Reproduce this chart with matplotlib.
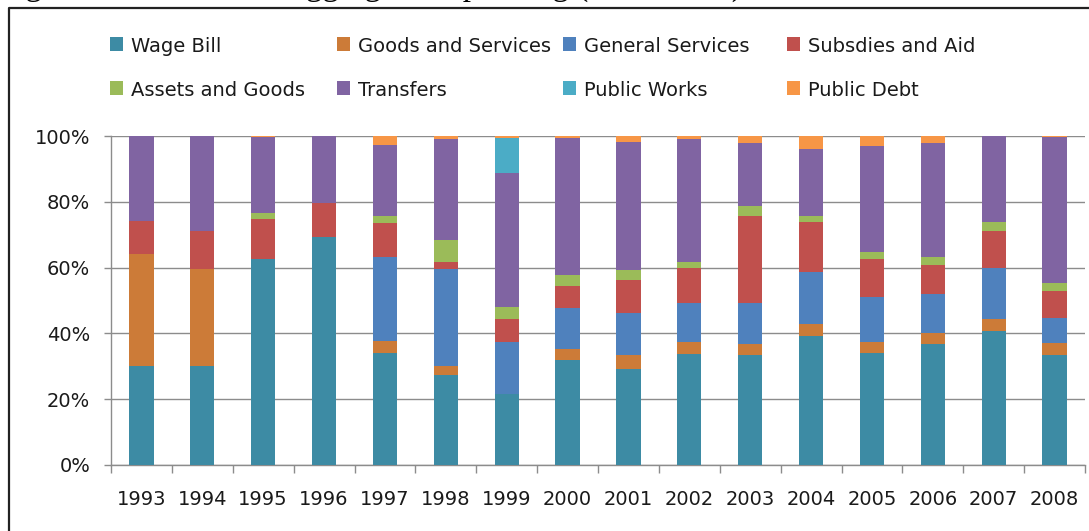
import numpy as np
import matplotlib
matplotlib.use("Agg")
import matplotlib.pyplot as plt
from matplotlib.lines import Line2D
from matplotlib.patches import Rectangle

# share of total spending per year (%), stacked bottom to top
years = ["1993", "1994", "1995", "1996", "1997", "1998", "1999", "2000",
         "2001", "2002", "2003", "2004", "2005", "2006", "2007", "2008"]

wage_bill = [30.1, 30.0, 62.5, 69.2, 34.1, 27.5, 21.6, 31.9, 29.3, 33.7, 33.3, 39.3, 34.1, 36.7, 40.7, 33.3]
goods_services = [33.9, 29.6, 0.0, 0.0, 3.7, 2.6, 0.0, 3.3, 4.0, 3.8, 3.4, 3.7, 3.4, 3.3, 3.7, 3.8]
general_services = [0.0, 0.0, 0.0, 0.0, 25.4, 29.5, 15.9, 12.6, 12.9, 11.6, 12.4, 15.8, 13.6, 11.9, 15.6, 7.7]
subsidies_aid = [10.3, 11.4, 12.2, 10.3, 10.5, 2.2, 6.9, 6.6, 10.0, 10.9, 26.7, 15.2, 11.4, 8.8, 11.0, 8.1]
assets_goods = [0.0, 0.0, 1.8, 0.0, 2.1, 6.7, 3.7, 3.2, 3.0, 1.8, 2.9, 1.8, 2.1, 2.5, 3.0, 2.3]
transfers = [25.7, 29.0, 23.3, 20.5, 21.5, 30.6, 40.7, 41.9, 39.1, 37.2, 19.3, 20.2, 32.3, 34.8, 26.0, 44.6]
public_works = [0.0, 0.0, 0.0, 0.0, 0.0, 0.0, 10.7, 0.0, 0.0, 0.0, 0.0, 0.0, 0.0, 0.0, 0.0, 0.0]
public_debt = [0.0, 0.0, 0.2, 0.0, 2.7, 0.9, 0.5, 0.5, 1.7, 1.0, 2.0, 4.0, 3.1, 2.0, 0.0, 0.2]

series_names = ["Wage Bill", "Goods and Services", "General Services", "Subsdies and Aid",
                "Assets and Goods", "Transfers", "Public Works", "Public Debt"]
series_values = [wage_bill, goods_services, general_services, subsidies_aid,
                 assets_goods, transfers, public_works, public_debt]
colors = ["#3d8ba4", "#cc7b38", "#4f81bd", "#c0504d",
          "#9bbb59", "#8064a2", "#4bacc6", "#f79646"]

W, H = 1089, 531
plt.rcParams["font.family"] = ["DejaVu Sans"]
text_color = "#1a1a1a"
axis_gray = "#8c8c8c"

fig = plt.figure(figsize=(W / 100, H / 100), dpi=100)
ax = fig.add_axes([111 / W, 66 / H, 974 / W, 329 / H])

x = np.arange(len(years))
bottom = np.zeros(len(years))
for name, vals, c in zip(series_names, series_values, colors):
    vals = np.array(vals)
    ax.bar(x, vals, width=0.4, bottom=bottom, color=c, linewidth=0, label=name, zorder=3)
    bottom += vals

ax.set_xlim(-0.5, len(years) - 0.5)
ax.set_ylim(0, 100)
ax.set_yticks(np.arange(0, 101, 20))
ax.set_yticklabels([f"{v}%" for v in range(0, 101, 20)])
ax.set_xticks(x)
ax.set_xticklabels(years)
ax.set_xticks(np.arange(-0.5, len(years)), minor=True)
ax.yaxis.grid(True, color=axis_gray, linewidth=1.0, zorder=0)
ax.set_axisbelow(True)

ax.tick_params(axis="y", length=5, width=1, color=axis_gray, pad=10,
               labelsize=14, labelcolor=text_color)
ax.tick_params(axis="x", which="major", length=0, pad=18,
               labelsize=14, labelcolor=text_color)
ax.tick_params(axis="x", which="minor", length=6, width=1, color=axis_gray)
for s in ["top", "right"]:
    ax.spines[s].set_visible(False)
for s in ["left", "bottom"]:
    ax.spines[s].set_color(axis_gray)
    ax.spines[s].set_linewidth(1)

# legend laid out in two rows of four, read left to right
col_x = [110, 337, 563, 787]
row_y = [44, 88]
sq = 13
for i, (name, c) in enumerate(zip(series_names, colors)):
    cx = col_x[i % 4]
    cy = row_y[i // 4]
    fig.patches.append(Rectangle(((cx) / W, (H - cy - sq / 2) / H), sq / W, sq / H,
                                 transform=fig.transFigure, facecolor=c,
                                 edgecolor="none"))
    fig.text((cx + 21) / W, (H - cy) / H, name, fontsize=14, color=text_color,
             va="center_baseline", ha="left")

# outer frame and caption line above it
fig.add_artist(Line2D([9 / W, 9 / W, 1.0], [0.0, (H - 8) / H, (H - 8) / H],
                      transform=fig.transFigure, color="#222222", linewidth=1.6))
fig.text(-2 / W, (H + 5) / H, "Figure 2: Share of Disaggregated Spending (1993-2008)",
         family="Liberation Serif", fontsize=23.8, color="black",
         ha="left", va="baseline")

fig.savefig("out.png", dpi=100)
